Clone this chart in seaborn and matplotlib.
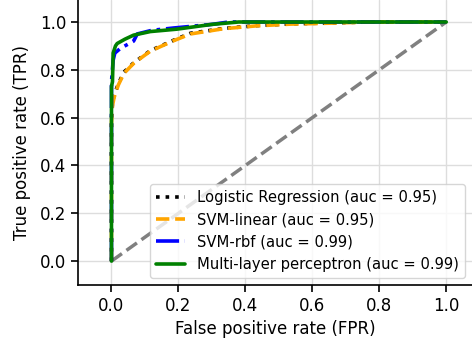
import numpy as np
import pandas as pd
import matplotlib
matplotlib.use("Agg")
import matplotlib.pyplot as plt
import seaborn as sns

# ROC curve points
fpr_lr = [0, 0, 0.003, 0.007, 0.02, 0.037, 0.067, 0.116, 0.186, 0.236, 0.335, 0.435, 0.534, 0.65, 0.77, 1.0]
tpr_lr = [0, 0.60, 0.66, 0.69, 0.74, 0.79, 0.83, 0.88, 0.924, 0.953, 0.973, 0.985, 0.992, 0.996, 1.0, 1.0]

fpr_svml = [0, 0, 0.003, 0.008, 0.02, 0.037, 0.067, 0.116, 0.186, 0.236, 0.335, 0.435, 0.534, 0.65, 0.77, 1.0]
tpr_svml = [0, 0.58, 0.65, 0.685, 0.735, 0.785, 0.828, 0.878, 0.922, 0.95, 0.972, 0.984, 0.991, 0.995, 1.0, 1.0]

fpr_rbf = [0, 0, 0.005, 0.01, 0.027, 0.066, 0.077, 0.12, 0.186, 0.3, 0.35, 1.0]
tpr_rbf = [0, 0.75, 0.84, 0.87, 0.89, 0.92, 0.95, 0.965, 0.975, 0.99, 1.0, 1.0]

fpr_mlp = [0, 0, 0.003, 0.005, 0.012, 0.017, 0.04, 0.066, 0.116, 0.195, 0.3, 0.38, 1.0]
tpr_mlp = [0, 0.73, 0.75, 0.87, 0.90, 0.91, 0.928, 0.945, 0.96, 0.97, 0.99, 1.0, 1.0]

labels = ["Logistic Regression (auc = 0.95)", "SVM-linear (auc = 0.95)",
          "SVM-rbf (auc = 0.99)", "Multi-layer perceptron (auc = 0.99)"]
colors = ["black", "orange", "blue", "green"]
styles = [":", "--", "-.", "-"]

series = [(fpr_lr, tpr_lr), (fpr_svml, tpr_svml), (fpr_rbf, tpr_rbf), (fpr_mlp, tpr_mlp)]

sns.set_style("ticks", {"text.color": "black", "axes.labelcolor": "black",
                        "xtick.color": "black", "ytick.color": "black",
                        "axes.edgecolor": "black"})
plt.rcParams['font.family'] = ['DejaVu Sans']

fig = plt.figure(figsize=(4.72, 3.47), dpi=100)
ax = fig.add_axes([78 / 472, 62 / 347, (472 - 78) / 472, 285 / 347])

diag = pd.DataFrame({"x": [0, 1], "y": [0, 1]})
sns.lineplot(data=diag, x="x", y="y", ax=ax, color="gray", linestyle="--", linewidth=2.5, zorder=2)

for (f, t), lab, c, ls in zip(series, labels, colors, styles):
    df = pd.DataFrame({"fpr": f, "tpr": t})
    sns.lineplot(data=df, x="fpr", y="tpr", ax=ax, sort=False, estimator=None,
                 color=c, linestyle=ls, linewidth=2.6, label=lab, zorder=3)

ax.set_xlim(-0.1, 1.077)
ax.set_ylim(-0.1, 1.092)
ax.set_xticks([0, 0.2, 0.4, 0.6, 0.8, 1.0])
ax.set_yticks([0, 0.2, 0.4, 0.6, 0.8, 1.0])
ax.grid(True, color="#dddddd", linewidth=1)
ax.set_axisbelow(True)
for s in ["top", "right"]:
    ax.spines[s].set_visible(False)
for s in ["left", "bottom"]:
    ax.spines[s].set_color("black")
    ax.spines[s].set_linewidth(1.2)
ax.tick_params(labelsize=12, length=5, width=1.2, color="black", labelcolor="black")
ax.set_xlabel("False positive rate (FPR)", fontsize=12, color="black")
ax.set_ylabel("True positive rate (TPR)", fontsize=12, color="black", labelpad=6)
leg = ax.legend(loc="lower right", fontsize=10.6, frameon=True)
for t in leg.get_texts():
    t.set_color("black")

fig.savefig("out.png", dpi=100)
